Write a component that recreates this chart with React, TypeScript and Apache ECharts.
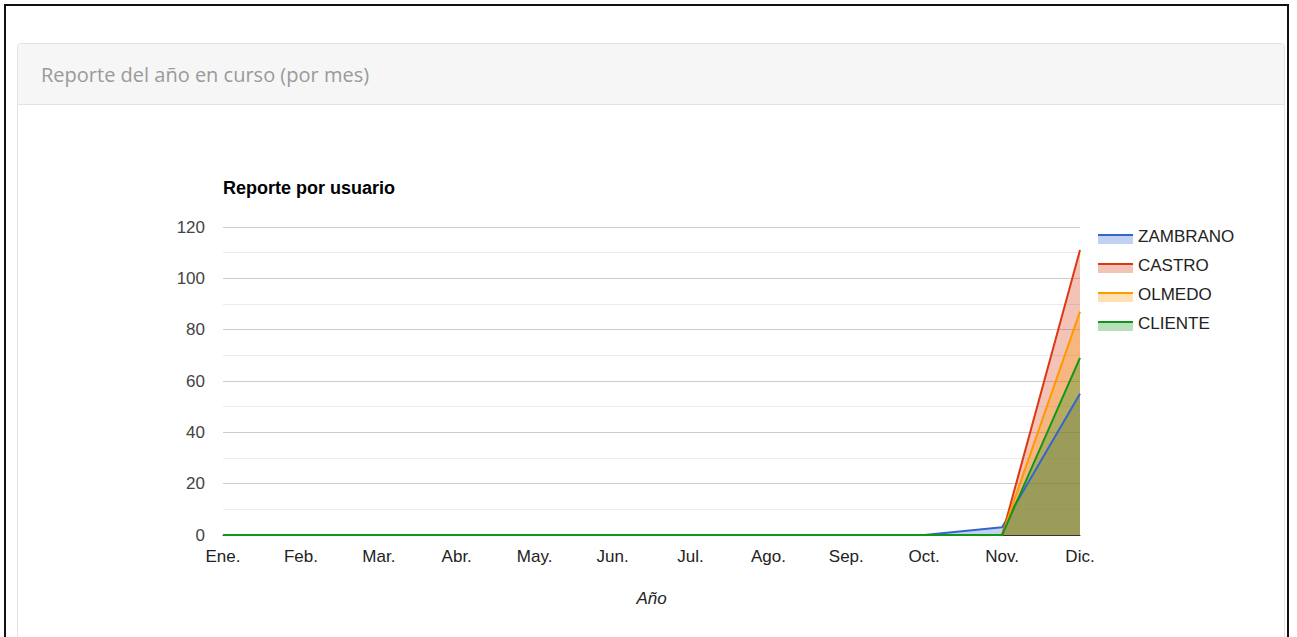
import React, { useEffect, useRef } from "react";
import * as echarts from "echarts";

const months = ["Ene.", "Feb.", "Mar.", "Abr.", "May.", "Jun.", "Jul.", "Ago.", "Sep.", "Oct.", "Nov.", "Dic."];
const seriesNames = ["ZAMBRANO", "CASTRO", "OLMEDO", "CLIENTE"];
const zambrano = [0, 0, 0, 0, 0, 0, 0, 0, 0, 0, 3, 55];
const castro = [0, 0, 0, 0, 0, 0, 0, 0, 0, 0, 0, 111];
const olmedo = [0, 0, 0, 0, 0, 0, 0, 0, 0, 0, 0, 87];
const cliente = [0, 0, 0, 0, 0, 0, 0, 0, 0, 0, 0, 69];
const seriesData = [zambrano, castro, olmedo, cliente];
const colors = ["#3366cc", "#dc3912", "#ff9900", "#109618"];

const FONT = "'Liberation Sans', Arial, sans-serif";

export default function App() {
  const ref = useRef<HTMLDivElement>(null);
  useEffect(() => {
    if (!ref.current) return;
    const chart = echarts.init(ref.current, undefined, { renderer: "svg" });
    const legendItems: any[] = [];
    seriesNames.forEach((name, i) => {
      const y = 236 + i * 29;
      legendItems.push({
        type: "rect",
        shape: { x: 1098, y: y, width: 35, height: 8 },
        style: { fill: colors[i], opacity: 0.3 },
      });
      legendItems.push({
        type: "rect",
        shape: { x: 1098, y: y - 2, width: 35, height: 2 },
        style: { fill: colors[i] },
      });
      legendItems.push({
        type: "text",
        x: 1138,
        y: y,
        style: {
          text: name,
          font: `17px ${FONT}`,
          fill: "#222",
          verticalAlign: "middle",
        },
      });
    });
    const areaSeries = seriesNames.map((name, i) => ({
      name,
      type: "line",
      data: seriesData[i],
      symbol: "none",
      lineStyle: { width: 0, color: colors[i] },
      itemStyle: { color: colors[i] },
      areaStyle: { color: colors[i], opacity: 0.3 },
      z: 2,
    }));
    const lineSeries = seriesNames.map((name, i) => ({
      name: name + " ",
      type: "line",
      data: seriesData[i],
      symbol: "none",
      lineStyle: { color: colors[i], width: 2 },
      itemStyle: { color: colors[i] },
      z: 3,
    }));
    chart.setOption({
      animation: false,
      title: {
        text: "Reporte por usuario",
        left: 218,
        top: 174,
        textStyle: { fontFamily: FONT, fontSize: 18, fontWeight: "bold", color: "#000" },
      },
      grid: { left: 223, top: 227, right: 217, bottom: 102 },
      xAxis: {
        type: "category",
        data: months,
        boundaryGap: false,
        name: "Año",
        nameLocation: "middle",
        nameGap: 55,
        nameTextStyle: { fontFamily: FONT, fontSize: 17, fontStyle: "italic", color: "#222" },
        axisLine: { show: true, lineStyle: { color: "#333", width: 1 } },
        axisTick: { show: false },
        axisLabel: { fontFamily: FONT, fontSize: 17, color: "#222", margin: 13 },
        splitLine: { show: false },
      },
      yAxis: {
        type: "value",
        min: 0,
        max: 120,
        interval: 20,
        axisLine: { show: false },
        axisTick: { show: false },
        axisLabel: { fontFamily: FONT, fontSize: 17, color: "#444", margin: 18 },
        splitLine: { show: true, lineStyle: { color: "#cccccc", width: 1 } },
        minorTick: { show: false, splitNumber: 2 },
        minorSplitLine: { show: true, lineStyle: { color: "#ebebeb", width: 1 } },
      },
      series: [...areaSeries, ...lineSeries],
      graphic: legendItems,
    });
    return () => chart.dispose();
  }, []);

  return (
    <div style={{ position: "fixed", left: 0, top: 0, width: 1297, height: 637, background: "#fff", overflow: "hidden" }}>
      <div
        style={{
          position: "absolute",
          left: 4,
          top: 4,
          width: 1281,
          height: 700,
          border: "2px solid #111",
          boxSizing: "content-box",
        }}
      />
      <div
        style={{
          position: "absolute",
          left: 17,
          top: 43,
          width: 1266,
          height: 640,
          border: "1px solid #e3e3e3",
          borderRadius: 4,
          background: "#fff",
        }}
      >
        <div
          style={{
            height: 60,
            background: "#f6f6f6",
            borderBottom: "1px solid #e3e3e3",
            borderRadius: "4px 4px 0 0",
            display: "flex",
            alignItems: "center",
            paddingLeft: 23,
            fontFamily: "'Open Sans', 'Noto Sans', sans-serif",
            fontSize: 20,
            color: "#9a9a9a",
          }}
        >
          Reporte del año en curso (por mes)
        </div>
      </div>
      <div ref={ref} style={{ position: "absolute", left: 0, top: 0, width: 1297, height: 637 }} />
    </div>
  );
}
